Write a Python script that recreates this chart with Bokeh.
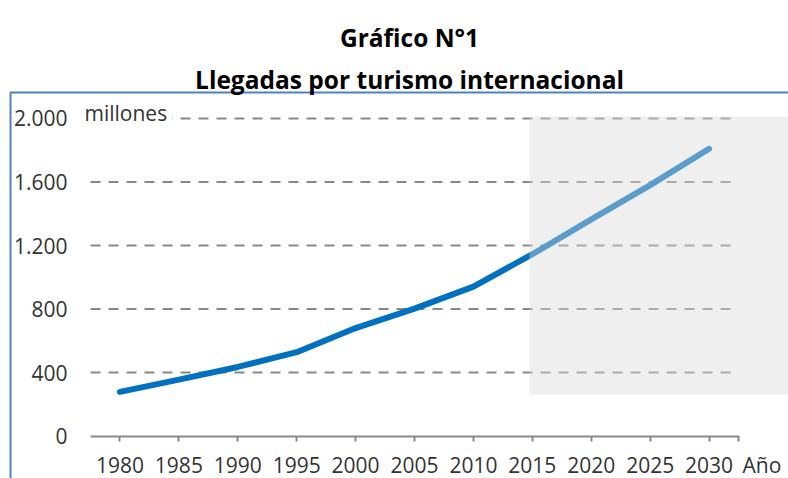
from bokeh.plotting import figure
from bokeh.models import Range1d, LinearAxis, FixedTicker, Label, ColumnDataSource
from bokeh.embed import file_html
from bokeh.resources import INLINE

# ---- data ----
years = [1980, 1985, 1990, 1995, 2000, 2005, 2010, 2015, 2020, 2025, 2030]
arrivals = [278, 355, 435, 528, 680, 802, 941, 1145, 1365, 1580, 1809]
y_ticks = [0, 400, 800, 1200, 1600, 2000]
y_tick_labels = ["0", "400", "800", "1.200", "1.600", "2.000"]
title_lines = ["Gráfico N°1", "Llegadas por turismo internacional"]
unit_label = "millones"
x_label = "Año"

# ---- layout constants ----
X_START, X_END = 1977.5, 2032.5          # extent of the category axis
XR0, XR1 = 1969.86, 2036.74              # whole canvas in data units
YR0, YR1 = -267.7, 2743.3
BOX_LEFT, BOX_TOP = 1970.71, 2163.8      # chart-area border (blue)
PROJ_START = 2014.75                     # projection shading
SHADE_BOTTOM, SHADE_TOP = 261, 2012

FONT = "Open Sans"
TXT = "#333333"
GRID = "#888888"
BLUE_BORDER = "#4F81BD"

p = figure(width=788, height=478, output_backend="svg", toolbar_location=None,
           x_range=Range1d(XR0, XR1), y_range=Range1d(YR0, YR1),
           x_axis_type=None, y_axis_type=None,
           min_border_left=0, min_border_right=0, min_border_top=0, min_border_bottom=0)
p.outline_line_color = None
p.background_fill_color = "white"
p.border_fill_color = "white"

# chart-area border: only top and left edges fall inside the canvas
p.quad(left=BOX_LEFT, right=XR1 + 20, bottom=YR0 - 500, top=BOX_TOP,
       fill_color=None, line_color=BLUE_BORDER, line_width=2)

# gridlines (dashed), from tick list
gsrc = ColumnDataSource(dict(y=y_ticks[1:]))
p.segment(x0=X_START, x1=X_END, y0="y", y1="y", source=gsrc,
          line_color=GRID, line_width=2, line_dash="10 8")

# series
p.line(years, arrivals, line_width=6, line_color="#0070C0",
       line_cap="round", line_join="round")

# projection shading (semi-transparent overlay)
p.quad(left=PROJ_START, right=XR1 + 1, bottom=SHADE_BOTTOM, top=SHADE_TOP,
       fill_color="#D9D9D9", fill_alpha=0.42, line_color=None)

# x axis
xaxis = LinearAxis(fixed_location=0, bounds=(X_START, X_END + 0.05),
                   ticker=FixedTicker(ticks=years + [X_END]),
                   major_label_overrides={X_END: ""})
xaxis.axis_line_color = "#898989"
xaxis.axis_line_width = 2
xaxis.major_tick_line_color = "#898989"
xaxis.major_tick_line_width = 2
xaxis.major_tick_in = 0
xaxis.major_tick_out = 5
xaxis.minor_tick_line_color = None
xaxis.major_label_text_font = FONT
xaxis.major_label_text_font_size = "21px"
xaxis.major_label_text_color = TXT
xaxis.major_label_standoff = 16
p.add_layout(xaxis, "below")

# y axis
yaxis = LinearAxis(fixed_location=X_START, ticker=FixedTicker(ticks=y_ticks),
                   major_label_overrides=dict(zip(y_ticks, y_tick_labels)))
yaxis.axis_line_color = None
yaxis.major_tick_line_color = None
yaxis.major_tick_in = 0
yaxis.major_tick_out = 0
yaxis.minor_tick_line_color = None
yaxis.major_label_text_font = FONT
yaxis.major_label_text_font_size = "21px"
yaxis.major_label_text_color = TXT
yaxis.major_label_standoff = 23
p.add_layout(yaxis, "left")

# unit label next to top tick
p.add_layout(Label(x=X_START, y=y_ticks[-1], x_offset=-11, y_offset=5, text=unit_label,
                   text_font=FONT, text_font_size="21px", text_color=TXT,
                   text_align="left", text_baseline="middle",
                   background_fill_color="white", padding=5))
# axis name after last tick
p.add_layout(Label(x=X_END, y=0, x_offset=4, y_offset=-29, text=x_label,
                   text_font=FONT, text_font_size="21px", text_color=TXT,
                   text_align="left", text_baseline="middle"))

# titles (alphabetic baselines)
for i, t in enumerate(title_lines):
    p.add_layout(Label(x=409, y=478 - 37 - 42 * i, x_units="screen", y_units="screen", text=t,
                       text_font=FONT, text_font_size="24.5px", text_font_style="bold",
                       text_color="black", text_align="center", text_baseline="alphabetic"))

open("out.html", "w").write(file_html(p, INLINE))
